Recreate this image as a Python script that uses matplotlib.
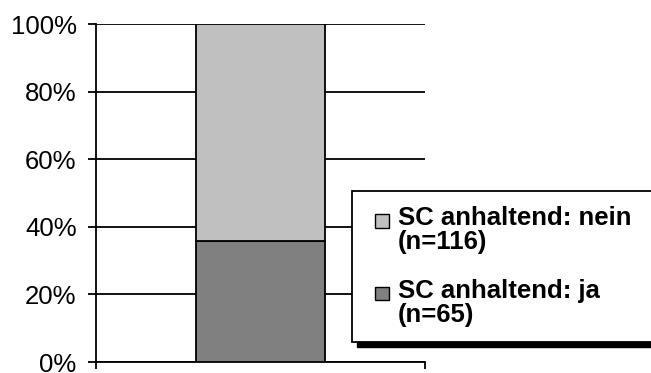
import matplotlib.pyplot as plt
from matplotlib.patches import Rectangle
from matplotlib.ticker import PercentFormatter

plt.rcParams['font.family'] = ['Liberation Sans', 'DejaVu Sans']

categories = ['']
labels = ['SC anhaltend: ja\n(n=65)', 'SC anhaltend: nein\n(n=116)']
counts = [65, 116]
colors = ['#808080', '#c0c0c0']
yticks = [0, 20, 40, 60, 80, 100]

total = sum(counts)
shares = [c / total * 100 for c in counts]

fig = plt.figure(figsize=(6.51, 3.73), dpi=100)
ax = fig.add_axes([96 / 651, 11 / 373, 329 / 651, 338 / 373])

bottom = 0
handles = []
for share, col, lab in zip(shares, colors, labels):
    h = ax.bar(categories, share, bottom=bottom, width=0.39, color=col,
               edgecolor='black', linewidth=1.3, label=lab, zorder=3)
    handles.append(h)
    bottom += share

ax.set_xlim(-0.5, 0.5)
ax.set_ylim(0, 100)
ax.set_yticks(yticks)
ax.yaxis.set_major_formatter(PercentFormatter(decimals=0))
ax.grid(axis='y', color='black', linewidth=1.3, zorder=0)
ax.set_axisbelow(True)
for s in ['top', 'right']:
    ax.spines[s].set_visible(False)
for s in ['left', 'bottom']:
    ax.spines[s].set_linewidth(1.3)
ax.set_xticks([-0.5, 0.5])
ax.set_xticklabels([])
ax.tick_params(axis='x', length=5, width=1.3, direction='out')
ax.tick_params(axis='y', length=6, width=1.3, labelsize=18.5, pad=8)

# legend order: nein above ja; box runs past the right edge like the original
fs = 18.5
leg = fig.legend(handles[::-1], labels[::-1], loc='upper left',
                 bbox_to_anchor=(352 / 651, 1 - 191 / 373, 310 / 651, 0),
                 mode='expand',
                 frameon=True, fancybox=False, edgecolor='black',
                 facecolor='white', framealpha=1,
                 prop={'weight': 'bold', 'size': fs}, handlelength=0.8,
                 handleheight=0.5, handletextpad=0.39, labelspacing=0.95,
                 borderpad=0.6, borderaxespad=0)
leg.get_frame().set_linewidth(1.3)
leg.set_zorder(5)
for t in leg.get_texts():
    t.set_linespacing(1.0)
for p in leg.legend_handles:
    p.set_x(p.get_x() + 5.5)
    p.set_width(9.8)
    p.set_y(p.get_y() + 7.5)
    p.set_height(9.8)
    p.set_linewidth(1.0)

fig.canvas.draw()
bb = leg.get_window_extent().transformed(fig.transFigure.inverted())
shadow = Rectangle((bb.x0 + 5 / 651, bb.y0 - 5 / 373), bb.width, bb.height,
                   transform=fig.transFigure, color='black', zorder=4)
fig.patches.append(shadow)

fig.savefig('out.png', dpi=100)
